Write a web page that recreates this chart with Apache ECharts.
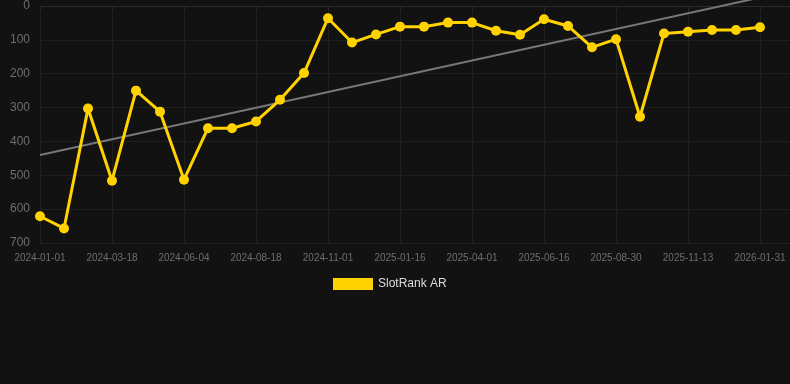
<!DOCTYPE html>
<html>
<head>
<meta charset="utf-8">
<script src="https://cdn.jsdelivr.net/npm/echarts@6/dist/echarts.min.js"></script>
<style>
  html, body { margin: 0; padding: 0; background: #121212; }
  #chart { width: 790px; height: 384px; }
</style>
</head>
<body>
<div id="chart"></div>
<script>
// dates for each sample (labels shown every 3rd)
const dates = [
  '2024-01-01', '2024-01-26', '2024-02-21', '2024-03-18', '2024-04-13', '2024-05-09',
  '2024-06-04', '2024-06-29', '2024-07-24', '2024-08-18', '2024-09-12', '2024-10-07',
  '2024-11-01', '2024-11-26', '2024-12-22', '2025-01-16', '2025-02-10', '2025-03-07',
  '2025-04-01', '2025-04-26', '2025-05-22', '2025-06-16', '2025-07-11', '2025-08-05',
  '2025-08-30', '2025-09-24', '2025-10-19', '2025-11-13', '2025-12-08', '2026-01-05',
  '2026-01-31'
]

// rank values
const ranks = [
  621, 657, 303, 516, 250, 312, 513, 361, 361, 341, 277, 198,
  36, 108, 84, 61, 61, 49, 49, 73, 85, 39, 59, 122,
  98, 327, 81, 76, 71, 71, 63
]

// trend line end points [index, rank]
const trend = [[0, 440], [30, -25]]

const yTicks = [0, 700]

const chart = echarts.init(document.getElementById('chart'))

const option = {
  backgroundColor: '#121212',
  animation: false,
  grid: {
    left: 40,
    right: 0,
    top: 6,
    bottom: 141
  },
  legend: {
    data: ['SlotRank AR'],
    top: 273,
    left: 328,
    itemWidth: 40,
    itemHeight: 12,
    icon: 'rect',
    textStyle: { color: '#dddddd', fontSize: 12, fontFamily: 'Liberation Sans' }
  },
  xAxis: {
    type: 'value',
    min: 0,
    max: 31.25,
    interval: 3,
    axisLine: { show: true, lineStyle: { color: '#2a2a2a' } },
    axisTick: { show: true, lineStyle: { color: '#2a2a2a' } },
    splitLine: { show: true, lineStyle: { color: '#1f1f1f' } },
    axisLabel: {
      color: '#6e6e6e',
      fontSize: 10,
      fontFamily: 'Liberation Sans',
      margin: 10,
      showMaxLabel: false,
      formatter: v => dates[v] || ''
    }
  },
  yAxis: {
    type: 'value',
    inverse: true,
    min: yTicks[0],
    max: yTicks[1],
    interval: 100,
    axisLine: { show: false },
    axisTick: { show: false },
    splitLine: { show: true, lineStyle: { color: '#1f1f1f' } },
    axisLabel: { color: '#6e6e6e', fontSize: 12, fontFamily: 'Liberation Sans', margin: 10 }
  },
  series: [
    {
      name: 'SlotRank AR',
      type: 'line',
      data: ranks.map((r, i) => [i, r]),
      symbol: 'circle',
      symbolSize: 10,
      color: '#ffd200',
      lineStyle: { width: 3, color: '#ffd200' },
      itemStyle: { color: '#ffd200' },
      z: 3
    },
    {
      name: 'trend',
      type: 'line',
      data: trend,
      symbol: 'none',
      clip: false,
      lineStyle: { width: 2, color: '#777777' },
      silent: true,
      z: 2
    }
  ]
}

chart.setOption(option)
</script>
</body>
</html>
